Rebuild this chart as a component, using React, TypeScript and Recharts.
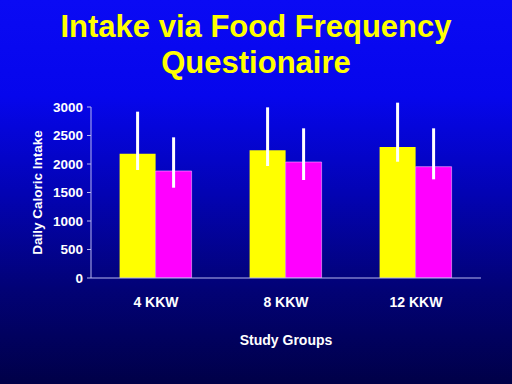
import React from 'react';
import { BarChart, Bar, XAxis, YAxis, ErrorBar } from 'recharts';

const groups = ['4 KKW', '8 KKW', '12 KKW'];
const yellowValues = [2180, 2240, 2300];
const yellowErrors: [number, number][] = [[285, 738], [275, 754], [260, 776]];
const magentaValues = [1877, 2035, 1953];
const magentaErrors: [number, number][] = [[293, 591], [316, 591], [222, 673]];
const yTicks = [0, 500, 1000, 1500, 2000, 2500, 3000];

const data = groups.map((g, i) => ({
  group: g,
  yellow: yellowValues[i],
  yellowErr: yellowErrors[i],
  magenta: magentaValues[i],
  magentaErr: magentaErrors[i],
}));

const FONT = '"Liberation Sans", Arial, sans-serif';
const AXIS = '#b8b8f0';

const YLabel = (props: any) => {
  const vb = props.viewBox || {};
  const cx = 37;
  const cy = vb.y + vb.height / 2;
  return (
    <text
      x={cx}
      y={cy}
      transform={`rotate(-90 ${cx} ${cy})`}
      textAnchor="middle"
      dominantBaseline="central"
      fill="#ffffff"
      fontFamily={FONT}
      fontWeight="bold"
      fontSize={13.5}
    >
      Daily Caloric Intake
    </text>
  );
};

export default function App() {
  return (
    <div
      style={{
        position: 'absolute',
        left: 0,
        top: 0,
        width: 512,
        height: 384,
        background:
          'linear-gradient(to bottom, #0a0af4 0%, #0606ec 25%, #0303b4 50%, #020276 75%, #000048 100%)',
        overflow: 'hidden',
      }}
    >
      <div
        style={{
          position: 'absolute',
          left: 0,
          top: 9,
          width: 512,
          textAlign: 'center',
          color: '#ffff00',
          fontFamily: FONT,
          fontWeight: 'bold',
          fontSize: 31,
          lineHeight: '36px',
        }}
      >
        Intake via Food Frequency
        <br />
        Questionaire
      </div>
      <div style={{ position: 'absolute', left: 0, top: 0 }}>
        <BarChart
          width={512}
          height={384}
          data={data}
          margin={{ top: 107, right: 31, bottom: 36, left: 0 }}
          barCategoryGap="22%"
          barGap={0}
        >
          <XAxis
            dataKey="group"
            height={70}
            axisLine={{ stroke: AXIS, strokeWidth: 1 }}
            tickLine={false}
            tickMargin={13}
            tick={{ fill: '#ffffff', fontFamily: FONT, fontWeight: 'bold', fontSize: 14 }}
            label={{
              value: 'Study Groups',
              position: 'insideBottom',
              offset: 3,
              fill: '#ffffff',
              fontFamily: FONT,
              fontWeight: 'bold',
              fontSize: 14,
            }}
          />
          <YAxis
            width={91}
            domain={[0, 3000]}
            ticks={yTicks}
            allowDataOverflow
            interval={0}
            axisLine={{ stroke: AXIS, strokeWidth: 1 }}
            tickLine={{ stroke: AXIS }}
            tickSize={4}
            tickMargin={4}
            tick={{ fill: '#ffffff', fontFamily: FONT, fontWeight: 'bold', fontSize: 13.5 }}
            label={{ content: YLabel }}
          />
          <Bar dataKey="yellow" fill="#ffff00" isAnimationActive={false}>
            <ErrorBar dataKey="yellowErr" width={0} stroke="#ffffff" strokeWidth={3} direction="y" />
          </Bar>
          <Bar dataKey="magenta" fill="#ff00ff" stroke="#ffb0ff" strokeWidth={0.6} isAnimationActive={false}>
            <ErrorBar dataKey="magentaErr" width={0} stroke="#ffffff" strokeWidth={3} direction="y" />
          </Bar>
        </BarChart>
      </div>
    </div>
  );
}
